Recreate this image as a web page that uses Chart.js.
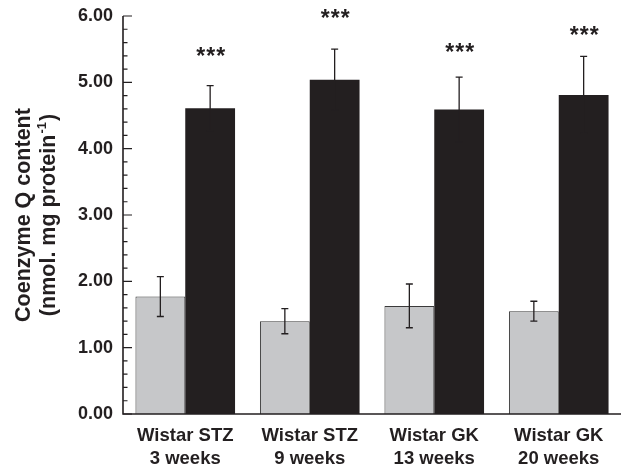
<!DOCTYPE html>
<html>
<head>
<meta charset="utf-8">
<script src="https://cdn.jsdelivr.net/npm/chart.js@4.4.0/dist/chart.umd.min.js"></script>
<style>
  html, body { margin: 0; padding: 0; background: #fff; }
  #wrap { width: 621px; height: 469px; }
</style>
</head>
<body>
<div id="wrap"><canvas id="myChart"></canvas></div>
<script>
// datos
const grupos = [['Wistar STZ', '3 weeks'], ['Wistar STZ', '9 weeks'], ['Wistar GK', '13 weeks'], ['Wistar GK', '20 weeks']];
const control = [1.77, 1.40, 1.63, 1.55];
const controlErr = [0.30, 0.19, 0.33, 0.15];
const tratado = [4.61, 5.04, 4.59, 4.81];
const tratadoErr = [0.34, 0.46, 0.49, 0.58];
const estrellas = [5.47, 6.04, 5.54, 5.79]; // altura de los ***
const yTicks = [0, 1, 2, 3, 4, 5, 6];

const tinta = '#231f20';
const fuente = "'Liberation Sans', Arial, Helvetica, sans-serif";

// barras de error, asteriscos, ejes y titulo del eje y
const extras = {
  id: 'extras',
  afterDatasetsDraw(chart) {
    const ctx = chart.ctx;
    const y = chart.scales.y;
    const area = chart.chartArea;
    const errores = [controlErr, tratadoErr];
    const valores = [control, tratado];

    ctx.save();
    ctx.strokeStyle = tinta;
    ctx.lineWidth = 1.3;
    for (let d = 0; d < 2; d++) {
      chart.getDatasetMeta(d).data.forEach((bar, i) => {
        const top = y.getPixelForValue(valores[d][i] + errores[d][i]);
        const bot = y.getPixelForValue(valores[d][i] - errores[d][i]);
        ctx.beginPath();
        ctx.moveTo(bar.x, top); ctx.lineTo(bar.x, bot);
        ctx.moveTo(bar.x - 3.5, top); ctx.lineTo(bar.x + 3.5, top);
        ctx.moveTo(bar.x - 3.5, bot); ctx.lineTo(bar.x + 3.5, bot);
        ctx.stroke();
      });
    }

    // ***
    ctx.fillStyle = tinta;
    ctx.font = 'bold 23px ' + fuente;
    ctx.textAlign = 'center';
    ctx.textBaseline = 'alphabetic';
    ctx.letterSpacing = '1px';
    chart.getDatasetMeta(1).data.forEach((bar, i) => {
      ctx.fillText('***', bar.x + 1, y.getPixelForValue(estrellas[i]) + 13);
    });
    ctx.letterSpacing = '0px';

    // ejes
    ctx.lineWidth = 1.6;
    ctx.beginPath();
    ctx.moveTo(area.left, area.top);
    ctx.lineTo(area.left, area.bottom);
    ctx.lineTo(chart.width, area.bottom);
    ctx.stroke();
    ctx.lineWidth = 1.2;
    ctx.beginPath();
    for (let v = 0; v <= 30; v++) {
      const py = y.getPixelForValue(v / 5);
      const largo = v % 5 === 0 ? 9 : 4.5;
      ctx.moveTo(area.left, py);
      ctx.lineTo(area.left + largo, py);
    }
    ctx.stroke();

    // titulo del eje y
    const cy = (area.top + area.bottom) / 2;
    ctx.save();
    ctx.translate(30, cy);
    ctx.rotate(-Math.PI / 2);
    ctx.font = 'bold 21.5px ' + fuente;
    ctx.textAlign = 'center';
    ctx.fillText('Coenzyme Q content', 0, 0);
    ctx.restore();

    ctx.save();
    ctx.translate(55, cy);
    ctx.rotate(-Math.PI / 2);
    ctx.textAlign = 'left';
    const f1 = 'bold 21.5px ' + fuente;
    const f2 = 'bold 13px ' + fuente;
    const a = '(nmol. mg protein', b = '-1', c = ')';
    ctx.font = f1; const wa = ctx.measureText(a).width; const wc = ctx.measureText(c).width;
    ctx.font = f2; const wb = ctx.measureText(b).width;
    let x0 = -(wa + wb + wc + 2) / 2;
    ctx.font = f1; ctx.fillText(a, x0, 0);
    ctx.font = f2; ctx.fillText(b, x0 + wa + 1, -9);
    ctx.font = f1; ctx.fillText(c, x0 + wa + wb + 2, 0);
    ctx.restore();
    ctx.restore();
  }
};

const ctx = document.getElementById('myChart').getContext('2d');

const myChart = new Chart(ctx, {
  type: 'bar',
  data: {
    labels: grupos,
    datasets: [{
      label: 'Control',
      data: control,
      backgroundColor: '#c6c7c9',
      borderColor: '#3a3a3a',
      borderWidth: 1,
      borderSkipped: 'bottom'
    }, {
      label: 'Tratado',
      data: tratado,
      backgroundColor: tinta,
      borderWidth: 0
    }]
  },
  options: {
    responsive: true,
    maintainAspectRatio: false,
    animation: false,
    devicePixelRatio: 1,
    layout: { padding: { top: 16, right: -2, left: 0, bottom: 0 } },
    datasets: { bar: { categoryPercentage: 0.8, barPercentage: 1.0 } },
    plugins: { legend: { display: false }, tooltip: { enabled: false } },
    scales: {
      x: {
        grid: { display: false, drawTicks: false },
        border: { display: false },
        ticks: {
          color: tinta,
          padding: 10,
          font: { family: fuente, size: 18.5, weight: 'bold', lineHeight: 1.25 }
        },
        afterFit(scale) { scale.height = 55; scale.paddingLeft = 0; scale.paddingRight = 0; }
      },
      y: {
        min: 0,
        max: 6,
        grid: { display: false, drawTicks: false },
        border: { display: false },
        afterBuildTicks(scale) { scale.ticks = yTicks.map(v => ({ value: v })); },
        ticks: {
          color: tinta,
          padding: 10,
          font: { family: fuente, size: 18, weight: 'bold' },
          callback: v => v.toFixed(2)
        },
        afterFit(scale) { scale.width = 123; scale.paddingTop = 0; scale.paddingBottom = 0; }
      }
    }
  },
  plugins: [extras]
});
</script>
</body>
</html>
